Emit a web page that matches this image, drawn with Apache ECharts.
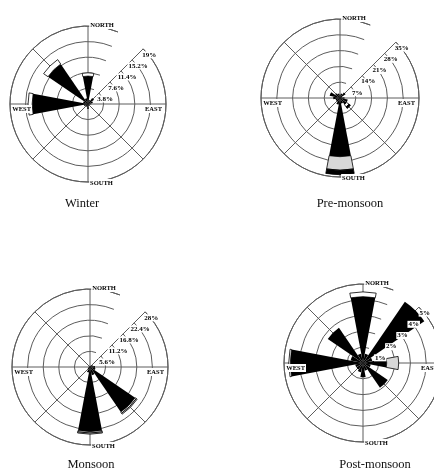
<!DOCTYPE html>
<html>
<head>
<meta charset="utf-8">
<script src="https://cdn.jsdelivr.net/npm/echarts@6/dist/echarts.min.js"></script>
<style>
  html, body { margin: 0; padding: 0; background: #fff; }
  #chart { width: 434px; height: 469px; }
</style>
</head>
<body>
<div id="chart"></div>
<script>
// 16 compass sectors, clockwise from north
const directions = ['N', 'NNE', 'NE', 'ENE', 'E', 'ESE', 'SE', 'SSE',
                    'S', 'SSW', 'SW', 'WSW', 'W', 'WNW', 'NW', 'NNW'];

// Frequency (%) per sector, split into stacked classes:
// class1 = black core, class2 = white band, class3 = grey band, class4 = black tip
const winterClass1 = [6.8, 1.0, 1.8, 1.2, 0.8, 0.5, 0.4, 0.5, 1.2, 0.8, 0.6, 1.0, 13.6, 1.2, 11.8, 1.4];
const winterClass2 = [0.8, 0, 0, 0, 0, 0, 0, 0, 0, 0, 0, 0, 1.0, 0, 1.3, 0];
const winterClass3 = [0, 0, 0, 0, 0, 0, 0, 0, 0, 0, 0, 0, 0, 0, 0, 0];
const winterClass4 = [0, 0, 0, 0, 0, 0, 0, 0, 0, 0, 0, 0, 0, 0, 0, 0];
const winterRings = ['3.8%', '7.6%', '11.4%', '15.2%', '19%'];
const winterStep = 3.8;

const preClass1 = [1.5, 2.0, 3.0, 1.0, 2.0, 3.5, 3.5, 2.5, 26, 3.0, 2.0, 2.0, 3.0, 4.7, 2.5, 2.0];
const preClass2 = [0, 0, 0, 0, 0, 0, 1.3, 0, 0, 0, 0, 0, 0, 0, 0, 0];
const preClass3 = [0, 0, 0, 0, 0, 0, 0, 0, 6.0, 0, 0, 0, 0, 0, 0, 0];
const preClass4 = [0, 0, 0, 0, 0, 0, 0.8, 0, 2.0, 0, 0, 0, 0, 0, 0, 0];
const preRings = ['7%', '14%', '21%', '28%', '35%'];
const preStep = 7;

const monClass1 = [0.4, 0.5, 0.8, 1.2, 1.8, 2.0, 19.6, 3.0, 23.2, 2.0, 1.0, 0.6, 0.5, 0.4, 0.3, 0.3];
const monClass2 = [0, 0, 0, 0, 0, 0, 0.5, 0, 0.5, 0, 0, 0, 0, 0, 0, 0];
const monClass3 = [0, 0, 0, 0, 0, 0, 0.4, 0, 0.4, 0, 0, 0, 0, 0, 0, 0];
const monClass4 = [0, 0, 0, 0, 0, 0, 0, 0, 0, 0, 0, 0, 0, 0, 0, 0];
const monRings = ['5.6%', '11.2%', '16.8%', '22.4%', '28%'];
const monStep = 5.6;

const postClass1 = [4.2, 0.6, 4.7, 0.6, 1.5, 0.5, 1.9, 0.5, 0.9, 0.6, 0.5, 0.5, 4.6, 0.8, 2.7, 0.6];
const postClass2 = [0.3, 0, 0, 0, 0, 0, 0, 0, 0, 0, 0, 0, 0.1, 0, 0, 0];
const postClass3 = [0, 0, 0, 0, 0.76, 0, 0, 0, 0, 0, 0, 0, 0, 0, 0, 0];
const postClass4 = [0, 0, 0, 0, 0, 0, 0, 0, 0, 0, 0, 0, 0, 0, 0, 0];
const postRings = ['1%', '2%', '3%', '4%', '5%'];
const postStep = 1;

const seasonTitles = ['Winter', 'Pre-monsoon', 'Monsoon', 'Post-monsoon'];

// Panel placement on the page
const panels = [
  { title: seasonTitles[0], classes: [winterClass1, winterClass2, winterClass3, winterClass4],
    rings: winterRings, step: winterStep, center: [88, 104], radius: 78, titleAt: [82, 204] },
  { title: seasonTitles[1], classes: [preClass1, preClass2, preClass3, preClass4],
    rings: preRings, step: preStep, center: [340, 98], radius: 79, titleAt: [350, 204] },
  { title: seasonTitles[2], classes: [monClass1, monClass2, monClass3, monClass4],
    rings: monRings, step: monStep, center: [90, 367], radius: 78, titleAt: [91, 465] },
  { title: seasonTitles[3], classes: [postClass1, postClass2, postClass3, postClass4],
    rings: postRings, step: postStep, center: [363, 363], radius: 79, titleAt: [375, 465] }
];

const FONT = '"Liberation Serif", "Times New Roman", serif';
const GRID = '#5c5c5c';
const CLASS_COLORS = ['#000000', '#ffffff', '#d8d8d8', '#000000'];

// The angle axis starts at NE (45 deg) so the radius axis runs along the NE diagonal
const order = directions.map((_, i) => (i + 2) % 16);
const sectorsFromNE = order.map(i => directions[i]);
const fromNE = arr => order.map(i => (arr[i] > 0 ? arr[i] : null));

const dirRich = {
  t: { fontFamily: FONT, fontWeight: 'bold', fontSize: 6.5, color: '#000',
       backgroundColor: '#fff', padding: [1, 1, 0, 1], lineHeight: 8 },
  gn: { width: 28 },
  gs: { width: 27 },
  gv: { fontSize: 1, lineHeight: 10, height: 10 }
};

const option = {
  animation: false,
  backgroundColor: '#fff',
  polar: [], angleAxis: [], radiusAxis: [], series: [], graphic: []
};

panels.forEach((p, k) => {
  const a = 3 * k, b = a + 1, c = a + 2;
  const max = p.step * p.rings.length;
  for (let i = 0; i < 3; i++) option.polar.push({ center: p.center, radius: p.radius });

  // grid: outer circle, rings and the eight spokes
  option.angleAxis.push({
    polarIndex: a, type: 'category', data: sectorsFromNE, boundaryGap: false,
    startAngle: 45, z: 0,
    axisLine: { show: true, lineStyle: { color: GRID, width: 1 } },
    axisTick: { show: false, interval: 1 },
    axisLabel: { show: false },
    splitLine: { show: true, lineStyle: { color: GRID, width: 1 } }
  });
  option.radiusAxis.push({
    polarIndex: a, type: 'value', min: 0, max: max, interval: p.step, z: 0,
    axisLine: { show: false }, axisTick: { show: false }, axisLabel: { show: false },
    splitLine: { show: true, lineStyle: { color: GRID, width: 1 } }
  });

  // ring labels on the NE diagonal, NORTH / SOUTH on the outer circle
  option.angleAxis.push({
    polarIndex: b, type: 'category', data: sectorsFromNE, boundaryGap: false,
    startAngle: 45, z: 10,
    axisLine: { show: false }, axisTick: { show: false }, splitLine: { show: false },
    axisLabel: {
      show: true, interval: 0, margin: -5, rich: dirRich,
      formatter: v => (v === 'N' ? '{gn|}{t|NORTH}' : v === 'S' ? '{gs|}{t|SOUTH}' : '')
    }
  });
  option.radiusAxis.push({
    polarIndex: b, type: 'value', min: 0, max: max, interval: p.step, z: 10,
    axisLine: { show: false }, axisTick: { show: false }, splitLine: { show: false },
    axisLabel: {
      show: true, showMinLabel: false, margin: -8.5, align: 'center', verticalAlign: 'middle',
      fontFamily: FONT, fontWeight: 'bold', fontSize: 7, color: '#000',
      backgroundColor: '#fff', padding: [0, 1],
      formatter: v => {
        const n = Math.round(v / p.step);
        return n >= 1 && n <= p.rings.length ? p.rings[n - 1] : '';
      }
    }
  });

  // WEST / EAST just inside the outer circle
  option.angleAxis.push({
    polarIndex: c, type: 'category', data: sectorsFromNE, boundaryGap: false,
    startAngle: 45, z: 10,
    axisLine: { show: false }, axisTick: { show: false }, splitLine: { show: false },
    axisLabel: {
      show: true, interval: 0, margin: -22, rich: dirRich,
      formatter: v => (v === 'E' ? '{gv| }\n{t|EAST}' : v === 'W' ? '{gv| }\n{t|WEST}' : '')
    }
  });
  option.radiusAxis.push({ polarIndex: c, type: 'value', min: 0, max: max, show: false });

  // stacked frequency sectors
  p.classes.forEach((cls, j) => {
    option.series.push({
      type: 'bar', coordinateSystem: 'polar', polarIndex: a, stack: 'season' + k,
      data: fromNE(cls), barCategoryGap: '5%', z: 2, silent: true,
      itemStyle: { color: CLASS_COLORS[j], borderColor: '#000', borderWidth: j === 0 ? 0 : 0.8 }
    });
  });

  option.graphic.push({
    type: 'text', x: p.titleAt[0], y: p.titleAt[1], silent: true,
    style: { text: p.title, fontFamily: FONT, fontSize: 12.5, fill: '#111',
             align: 'center', verticalAlign: 'middle' }
  });
});

const chart = echarts.init(document.getElementById('chart'), null, { renderer: 'canvas' });
chart.setOption(option);
</script>
</body>
</html>
